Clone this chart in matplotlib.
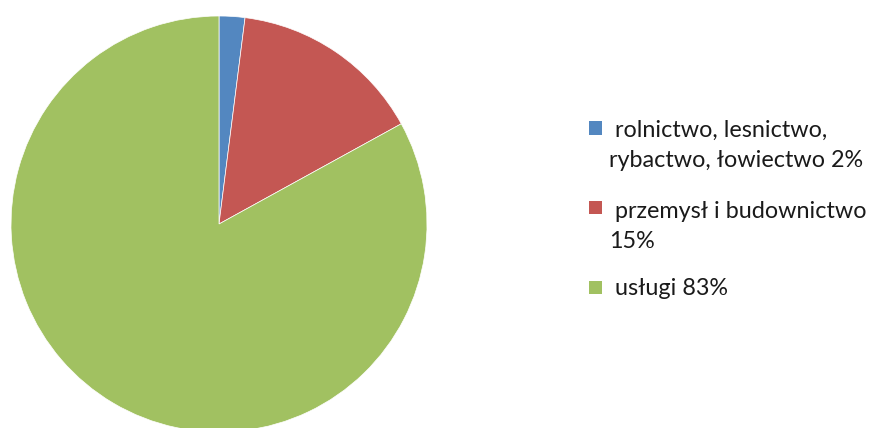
import matplotlib
matplotlib.use("Agg")
import matplotlib.pyplot as plt
from matplotlib.patches import Rectangle

# Data
categories = ["rolnictwo, lesnictwo, rybactwo, łowiectwo", "przemysł i budownictwo", "usługi"]
values = [2, 15, 83]
legend_labels = [" rolnictwo, lesnictwo,\nrybactwo, łowiectwo 2%",
                 " przemysł i budownictwo\n15%",
                 " usługi 83%"]
colors = ["#5387C0", "#C45753", "#A1C161"]

W, H = 885, 428
fig = plt.figure(figsize=(W / 100, H / 100), dpi=100)
fig.patch.set_facecolor("white")

def px(x, y, w, h):
    return [x / W, 1 - (y + h) / H, w / W, h / H]

ax = fig.add_axes(px(11, 16, 416, 416))
ax.pie(values, colors=colors, startangle=90, counterclock=False,
       wedgeprops=dict(edgecolor="white", linewidth=0.5), radius=1.0)
ax.set_xlim(-1, 1)
ax.set_ylim(-1, 1)
ax.set_aspect("equal")
ax.axis("off")

# Legend (manual, Excel-like)
entry_baselines = [137, 218, 295]
square_centers = [128, 208, 287]
line_pitch = 30
for label, col, yb, sc in zip(legend_labels, colors, entry_baselines, square_centers):
    fig.patches.append(Rectangle(((589) / W, 1 - (sc + 6.5) / H), 13 / W, 13 / H,
                                 transform=fig.transFigure, facecolor=col,
                                 edgecolor="none"))
    for i, line in enumerate(label.split("\n")):
        fig.text(609 / W, 1 - (yb + i * line_pitch) / H, line,
                 fontsize=16.8, family=["Lato", "DejaVu Sans"], color="#1a1a1a",
                 ha="left", va="baseline")

fig.savefig("out.png", dpi=100, facecolor="white")
